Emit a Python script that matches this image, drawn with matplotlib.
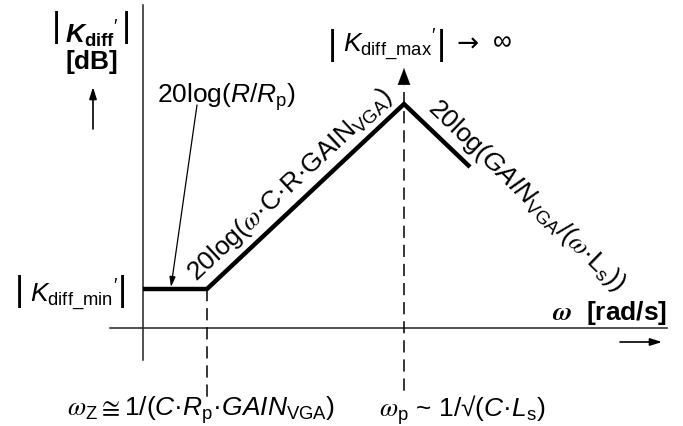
import matplotlib
matplotlib.use("Agg")
import matplotlib.pyplot as plt

plt.rcParams['font.family'] = ['Liberation Sans', 'DejaVu Sans']
plt.rcParams['mathtext.fontset'] = 'custom'
plt.rcParams['mathtext.rm'] = 'Liberation Sans'
plt.rcParams['mathtext.it'] = 'Liberation Sans:italic'
plt.rcParams['mathtext.bf'] = 'Liberation Sans:bold'
plt.rcParams['mathtext.bfit'] = 'Liberation Sans:italic:bold'
# serif italic omega, regular and bold
plt.rcParams['mathtext.sf'] = 'STIXGeneral:italic'
plt.rcParams['mathtext.tt'] = 'STIXGeneral:italic:bold'
plt.rcParams['mathtext.fallback'] = 'stix'

# Asymptotic magnitude curve (schematic units: log-frequency vs dB)
omega_pts = [0, 64, 261, 327]
gain_db = [39, 39, 224, 161]

# Corner frequencies (zero and pole)
omega_z = omega_pts[1]
omega_p = omega_pts[2]

# Axis extents
x_axis_span = [-33, 524]
y_axis_span = [-32, 323]

FS = 19
BAR_FS = 25

fig = plt.figure(figsize=(6.83, 4.26), dpi=100)
ax = fig.add_axes([0, 0, 1, 1])
ax.set_xlim(-143, 540)
ax.set_ylim(-98, 328)
ax.axis('off')


def bar_label(x_left, x_right, y_bar, x_text, y_base, content, size=FS):
    """Magnitude label framed by tall vertical bars."""
    for xb in (x_left, x_right):
        ax.text(xb, y_bar, '|', fontsize=BAR_FS, ha='center', va='center',
                family='Liberation Sans')
    ax.text(x_text, y_base, content, fontsize=size, ha='left', va='baseline')


# axes
ax.plot(x_axis_span, [0, 0], color='#222222', lw=1.1)
ax.plot([0, 0], y_axis_span, color='#222222', lw=1.1)

# magnitude curve
ax.plot(omega_pts, gain_db, color='black', lw=3.2, solid_capstyle='butt',
        solid_joinstyle='miter')

# dashed markers at corner frequencies
ax.plot([omega_z, omega_z], [gain_db[1], -69], color='black', lw=1.1,
        dashes=(8, 4.5))
ax.plot([omega_p, omega_p], [gain_db[2] + 12, -69], color='black', lw=1.1,
        dashes=(8, 4.5))

# upward arrowhead above the peak
ax.annotate('', xy=(omega_p, gain_db[2] + 36), xytext=(omega_p, gain_db[2] + 17),
            arrowprops=dict(arrowstyle='-|>,head_length=1.2,head_width=0.45',
                            color='black', lw=0.1, shrinkA=0, shrinkB=0))

# direction arrows for axes
ax.annotate('', xy=(-50, 241), xytext=(-50, 199),
            arrowprops=dict(arrowstyle='-|>,head_length=0.7,head_width=0.22',
                            color='black', lw=1.2, shrinkA=0, shrinkB=0))
ax.annotate('', xy=(519, -14), xytext=(477, -14),
            arrowprops=dict(arrowstyle='-|>,head_length=0.7,head_width=0.22',
                            color='black', lw=1.2, shrinkA=0, shrinkB=0))

# y-axis label
bar_label(-87, -17, 300, -78, 285, r'$\mathbfit{K}_{\mathbf{diff}}{}^{\prime}$')
ax.text(-51, 266, '[dB]', fontsize=FS, fontweight='bold', ha='center', va='center')

# x-axis label
ax.text(524, 15, r'$\mathtt{\omega}$  [rad/s]', fontsize=FS, fontweight='bold',
        ha='right', va='center')

# level labels
bar_label(-124, -21, 37, -113, 25, r'$K_{\mathrm{diff\_min}}{}^{\prime}$')
bar_label(189.5, 298.5, 283, 200, 275, r'$K_{\mathrm{diff\_max}}{}^{\prime}$')
ax.text(314, 283, '→', fontsize=FS, ha='left', va='center', family='DejaVu Sans')
ax.text(350, 286, '∞', fontsize=FS, ha='left', va='center')

# flat-level annotation with pointer
ax.text(14, 231, r'20log($R$/$R_{\mathrm{p}}$)', fontsize=FS, ha='left', va='center')
ax.annotate('', xy=(28, gain_db[1] + 2), xytext=(54, 223),
            arrowprops=dict(arrowstyle='-|>,head_length=0.6,head_width=0.18',
                            color='black', lw=0.9, shrinkA=0, shrinkB=0))

# slope labels
ax.text(147, 143, r'20log($\mathsf{\omega}$·C·R·GAIN$_{\mathrm{VGA}}$)', fontsize=FS,
        rotation=43, rotation_mode='anchor', ha='center', va='center')
ax.text(383, 133, r'20log($GAIN_{\mathrm{VGA}}$/($\mathsf{\omega}$·L$_{\mathrm{s}}$))',
        fontsize=FS, rotation=-44, rotation_mode='anchor', ha='center', va='center')

# corner frequency labels
ax.text(58.5, -82,
        r'$\mathsf{\omega}_{\mathrm{Z}}\cong$1/($C$·$R_{\mathrm{p}}$·$GAIN_{\mathrm{VGA}}$)',
        fontsize=FS, ha='center', va='center')
ax.text(319.5, -82, r'$\mathsf{\omega}_{\mathrm{p}}$ ~ 1/√($C$·$L_{\mathrm{s}}$)',
        fontsize=FS, ha='center', va='center')

fig.savefig('out.png', dpi=100)
